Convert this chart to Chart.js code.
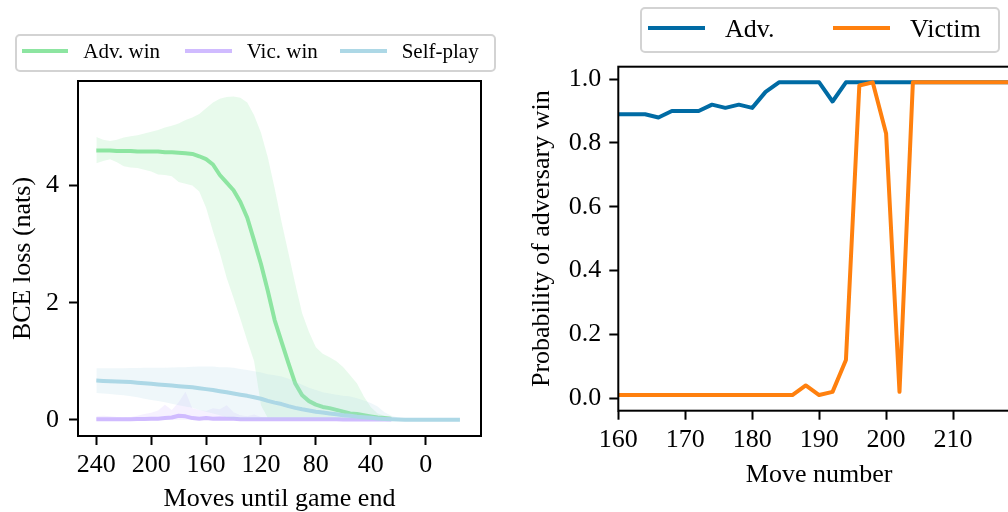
<!DOCTYPE html>
<html><head><meta charset="utf-8">
<script src="https://cdn.jsdelivr.net/npm/chart.js@4/dist/chart.umd.min.js"></script>
<style>
html,body{margin:0;padding:0;width:1008px;height:512px;overflow:hidden;background:#fff;}
#left{position:absolute;left:0;top:0;width:510px;height:512px;}
#right{position:absolute;left:510px;top:0;width:560px;height:512px;}
.legend{position:absolute;border:2px solid #d3d3d3;border-radius:5px;background:rgba(255,255,255,0.85);box-sizing:border-box;font-family:'Liberation Serif',serif;color:#000;z-index:2;}
.sw{position:absolute;height:4px;}
.lt{position:absolute;white-space:nowrap;line-height:1;}
</style></head>
<body>
<div id="left"><canvas id="c1" width="510" height="512"></canvas></div>
<div id="right"><canvas id="c2" width="560" height="512"></canvas></div>
<div class="legend" id="lg1" style="left:15px;top:34px;width:481px;height:38px;"></div>
<div class="legend" id="lg2" style="left:640px;top:7px;width:360px;height:46px;"></div>
<script>
// ---------- Left panel data ----------
const moves = [240,235,230,225,220,215,210,205,200,195,190,185,180,175,170,165,160,155,150,145,140,135,130,125,120,115,110,105,100,95,90,85,80,75,70,65,60,55,50,45,40,35,30,25,20,15,10,5,0,-5,-10,-15,-20,-25];
const advWin = [4.60,4.60,4.60,4.59,4.59,4.59,4.58,4.58,4.58,4.58,4.57,4.57,4.56,4.55,4.54,4.50,4.45,4.36,4.18,4.05,3.92,3.72,3.45,3.06,2.66,2.20,1.70,1.33,0.97,0.62,0.42,0.32,0.26,0.22,0.20,0.17,0.14,0.11,0.10,0.08,0.06,0.04,0.03,0.02];
const advUpper = [4.83,4.78,4.76,4.78,4.82,4.84,4.86,4.89,4.92,4.95,4.99,5.02,5.06,5.12,5.16,5.22,5.32,5.42,5.48,5.51,5.52,5.50,5.42,5.20,4.90,4.48,3.95,3.38,2.85,2.32,1.82,1.50,1.24,1.13,1.07,1.00,0.90,0.76,0.62,0.40,0.22,0.11,0.07,0.05];
const advLower = [4.38,4.42,4.45,4.40,4.33,4.31,4.30,4.27,4.24,4.19,4.18,4.16,4.06,4.03,4.00,3.90,3.62,3.22,2.85,2.42,2.08,1.72,1.35,1.00,0.25,0.03,0,0,0,0,0,0,0,0,0,0,0,0,0,0,0,0,0,0];
const vicWin = [0.01,0.01,0.01,0.01,0.01,0.01,0.015,0.015,0.02,0.02,0.03,0.04,0.07,0.06,0.03,0.02,0.03,0.02,0.025,0.02,0.02,0.01,0.01,0.01,0.01,0.01,0.01,0.01,0.01,0.01,0.01,0.01,0.01,0.01,0.01,0.01,0.005,0.005,0.005,0.005,0.005,0.005,0.005,0.005];
const vicUpper = [0.06,0.07,0.06,0.05,0.04,0.05,0.07,0.10,0.12,0.16,0.26,0.17,0.30,0.48,0.20,0.17,0.15,0.20,0.18,0.25,0.13,0.08,0.06,0.09,0.05,0.04,0.03,0.03,0.03,0.02,0.02,0.02,0.02,0.02,0.02,0.02,0.02,0.02,0.015,0.015,0.015,0.01,0.01,0.01];
const vicLower = [0,0,0,0,0,0,0,0,0,0,0,0,0,0,0,0,0,0,0,0,0,0,0,0,0,0,0,0,0,0,0,0,0,0,0,0,0,0,0,0,0,0,0,0];
const selfPlay = [0.67,0.665,0.66,0.655,0.65,0.645,0.635,0.625,0.615,0.605,0.595,0.585,0.575,0.565,0.555,0.54,0.525,0.51,0.49,0.47,0.45,0.43,0.41,0.385,0.36,0.325,0.295,0.27,0.235,0.205,0.18,0.16,0.14,0.125,0.11,0.095,0.08,0.07,0.055,0.045,0.035,0.025,0.015,0.01,0.006,0.003,0.001,0,0,0,0,0,0,0];
const selfUpper = [0.88,0.88,0.88,0.88,0.88,0.885,0.885,0.89,0.89,0.89,0.89,0.895,0.90,0.90,0.905,0.91,0.91,0.91,0.90,0.90,0.89,0.87,0.85,0.83,0.81,0.78,0.76,0.74,0.70,0.65,0.60,0.55,0.51,0.47,0.45,0.43,0.41,0.40,0.37,0.33,0.29,0.23,0.13,0.07,0.04,0.02,0.01,0.005,0,0,0,0,0,0];
const selfLower = [0.46,0.45,0.44,0.43,0.42,0.405,0.385,0.36,0.34,0.32,0.30,0.275,0.25,0.23,0.205,0.17,0.14,0.11,0.08,0.04,0.01,0,0,0,0,0,0,0,0,0,0,0,0,0,0,0,0,0,0,0,0,0,0,0,0,0,0,0,0,0,0,0,0,0];
const leftXTicks = [240,200,160,120,80,40,0];
const leftYTicks = [0,2,4];
const leftNames = ['Adv. win','Vic. win','Self-play'];

// ---------- Right panel data ----------
const moveNumber = [160,162,164,166,168,170,172,174,176,178,180,182,184,186,188,190,192,194,196,198,200,202,204,206,208,210,212,214,216,218,220];
const advProb = [0.89,0.89,0.89,0.88,0.90,0.90,0.90,0.92,0.91,0.92,0.91,0.96,0.99,0.99,0.99,0.99,0.93,0.99,0.99,0.99,0.99,0.99,0.99,0.99,0.99,0.99,0.99,0.99,0.99,0.99,0.99];
const victimProb = [0.01,0.01,0.01,0.01,0.01,0.01,0.01,0.01,0.01,0.01,0.01,0.01,0.01,0.01,0.04,0.01,0.02,0.12,0.98,0.99,0.83,0.02,0.99,0.99,0.99,0.99,0.99,0.99,0.99,0.99,0.99];
const rightXTicks = [160,170,180,190,200,210];
const rightYTicks = [0,0.2,0.4,0.6,0.8,1.0];
const rightNames = ['Adv.','Victim'];

// ---------- styling ----------
const F = "'Liberation Serif', 'DejaVu Serif', serif";
const GREEN = '#8de5a1', PURPLE = '#d0bbff', LBLUE = '#add8e6';
const BLUE = '#006ba4', ORANGE = '#ff800e';
const rgba = (hex, a) => { const n = parseInt(hex.slice(1), 16); return `rgba(${(n>>16)&255},${(n>>8)&255},${n&255},${a})`; };
const pts = (xs, vals) => vals.map((v, i) => ({x: xs[i], y: v}));

const framePlugin = {
  id: 'frame',
  afterDatasetsDraw(chart) {
    const {ctx, chartArea: a} = chart;
    ctx.save(); ctx.strokeStyle = '#000'; ctx.lineWidth = 2;
    ctx.strokeRect(a.left, a.top, a.right - a.left, a.bottom - a.top);
    ctx.restore();
  }
};
function lineDs(data, color, order) {
  return {data, borderColor: color, backgroundColor: color, borderWidth: 4, pointRadius: 0, fill: false, order, borderJoinStyle: 'round', borderCapStyle: 'butt'};
}
function bandDs(data, color, order, fill) {
  return {data, borderWidth: 0, borderColor: 'rgba(0,0,0,0)', backgroundColor: rgba(color, 0.2), pointRadius: 0, fill, order};
}
function axis(pad, extra) {
  return Object.assign({
    ticks: {font: {family: F, size: 26}, color: '#000', autoSkip: false, maxRotation: 0, padding: pad},
    grid: {drawOnChartArea: false, tickLength: 9, tickWidth: 2, color: '#000'},
    border: {display: false}
  }, extra);
}
function title(text, pad) {
  return {display: true, text, color: '#000', font: {family: F, size: 26, lineHeight: 1}, padding: pad};
}
Chart.defaults.animation = false;

// ---------- Left chart ----------
new Chart(document.getElementById('c1'), {
  type: 'line',
  data: {datasets: [
    bandDs(pts(moves, advUpper), GREEN, 6, '+1'),
    bandDs(pts(moves, advLower), GREEN, 6, false),
    lineDs(pts(moves, advWin), GREEN, 5),
    bandDs(pts(moves, vicUpper), PURPLE, 4, '+1'),
    bandDs(pts(moves, vicLower), PURPLE, 4, false),
    lineDs(pts(moves, vicWin), PURPLE, 3),
    bandDs(pts(moves, selfUpper), LBLUE, 2, '+1'),
    bandDs(pts(moves, selfLower), LBLUE, 2, false),
    lineDs(pts(moves, selfPlay), LBLUE, 1)
  ]},
  options: {
    responsive: false, animation: false, events: [],
    layout: {padding: {top: 81, right: 29, bottom: 0, left: 0}},
    plugins: {legend: {display: false}, tooltip: {enabled: false}},
    scales: {
      x: axis(5, {
        type: 'linear', reverse: true, min: -40.35, max: 253.35,
        afterBuildTicks: s => { s.ticks = leftXTicks.map(v => ({value: v})); },
        title: title('Moves until game end', {top: 0, bottom: 0}),
        afterFit: s => { s.height = 76; }
      }),
      y: axis(10, {
        type: 'linear', min: -0.2755, max: 5.785,
        afterBuildTicks: s => { s.ticks = leftYTicks.map(v => ({value: v})); },
        title: title('BCE loss (nats)', {top: 10, bottom: 0}),
        afterFit: s => { s.width = 78; }
      })
    }
  },
  plugins: [framePlugin]
});

// ---------- Right chart ----------
const c2 = new Chart(document.getElementById('c2'), {
  type: 'line',
  data: {datasets: [
    lineDs(pts(moveNumber, advProb), BLUE, 2),
    lineDs(pts(moveNumber, victimProb), ORANGE, 1)
  ]},
  options: {
    responsive: false, animation: false, events: [],
    layout: {padding: {top: 66.7, right: 50, bottom: 0, left: 0}},
    plugins: {legend: {display: false}, tooltip: {enabled: false}},
    scales: {
      x: axis(5, {
        type: 'linear', min: 160, max: 220,
        afterBuildTicks: s => { s.ticks = rightXTicks.map(v => ({value: v})); },
        title: title('Move number', {top: 0, bottom: 23.6}),
        afterFit: s => { s.height = 101.3; }
      }),
      y: axis(8, {
        type: 'linear', min: -0.039, max: 1.039,
        afterBuildTicks: s => { s.ticks = rightYTicks.map(v => ({value: v})); },
        title: title('Probability of adversary win', {top: 19, bottom: 0}),
        afterFit: s => { s.width = 108.3; }
      })
    }
  },
  plugins: [framePlugin]
});
c2.options.scales.y.ticks.callback = v => Number(v).toFixed(1);
c2.update();

// ---------- Legends (HTML) ----------
function addLegend(id, items) {
  const box = document.getElementById(id);
  items.forEach(it => {
    const sw = document.createElement('div');
    sw.className = 'sw';
    sw.style.cssText = `left:${it.sx}px;top:${it.sy}px;width:${it.sw}px;background:${it.color};`;
    box.appendChild(sw);
    const t = document.createElement('div');
    t.className = 'lt';
    t.style.cssText = `left:${it.tx}px;top:${it.ty}px;font-size:${it.fs}px;`;
    t.textContent = it.name;
    box.appendChild(t);
  });
}
const leftColors = [GREEN, PURPLE, LBLUE];
const leftSwX = [4.7, 168, 323], leftTxX = [66.3, 229.7, 384.7];
addLegend('lg1', leftNames.map((n, i) => ({name: n, color: leftColors[i], sx: leftSwX[i], sy: 12.7, sw: 46.6, tx: leftTxX[i], ty: 4.7, fs: 21})));
const rightColors = [BLUE, ORANGE];
const rightSwX = [6, 191], rightTxX = [83, 268];
addLegend('lg2', rightNames.map((n, i) => ({name: n, color: rightColors[i], sx: rightSwX[i], sy: 16.6, sw: 57, tx: rightTxX[i], ty: 6.5, fs: 26})));
</script>
</body></html>
